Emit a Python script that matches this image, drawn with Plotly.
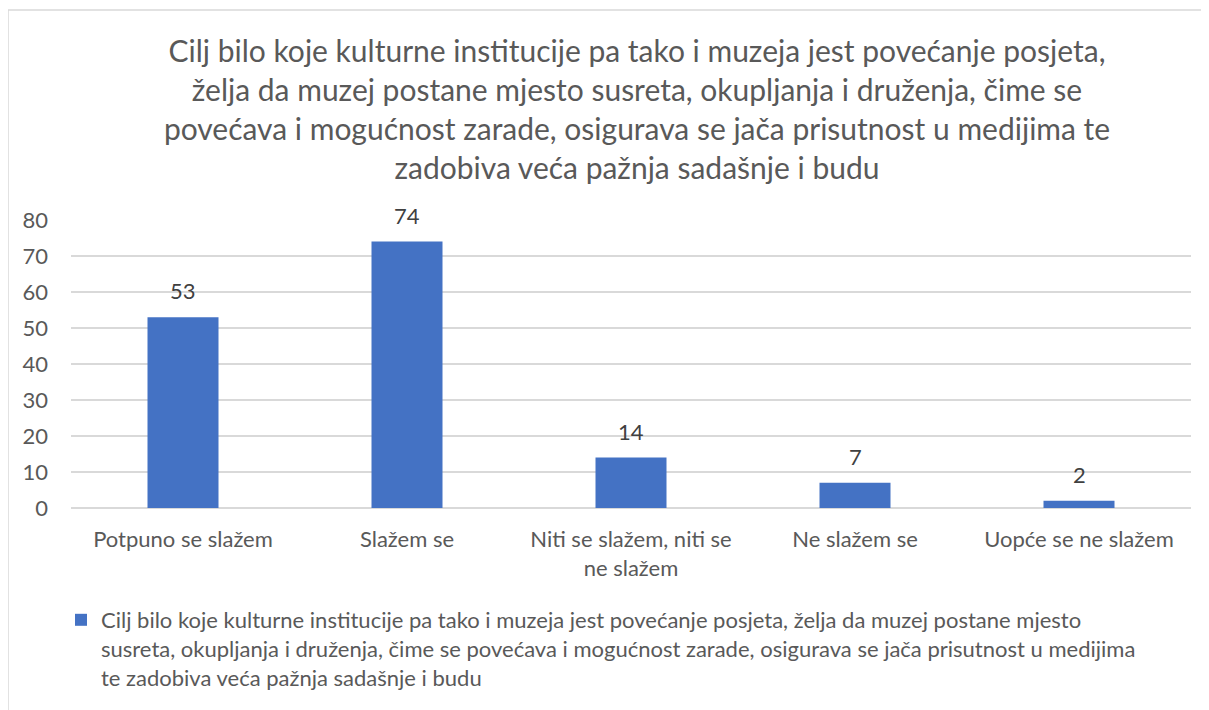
import plotly.graph_objects as go

categories = ["Potpuno se slažem", "Slažem se", "Niti se slažem, niti se<br>ne slažem",
              "Ne slažem se", "Uopće se ne slažem"]
values = [53, 74, 14, 7, 2]
series_name = ("Cilj bilo koje kulturne institucije pa tako i muzeja jest povećanje posjeta, želja da muzej postane mjesto<br>"
               "susreta, okupljanja i druženja, čime se povećava i mogućnost zarade, osigurava se jača prisutnost u medijima<br>"
               "te zadobiva veća pažnja sadašnje i budu")
title_text = ("Cilj bilo koje kulturne institucije pa tako i muzeja jest povećanje posjeta,<br>"
              "želja da muzej postane mjesto susreta, okupljanja i druženja, čime se<br>"
              "povećava i mogućnost zarade, osigurava se jača prisutnost u medijima te<br>"
              "zadobiva veća pažnja sadašnje i budu")
y_ticks = [0, 10, 20, 30, 40, 50, 60, 70, 80]

FONT = "Lato, 'Open Sans', sans-serif"
# page has an 8px body margin; figure coordinates are page coordinates minus 8
W, H = 1201, 702
L, R, T, B = 63, 18, 212, 202
pw, ph = W - L - R, H - T - B

fig = go.Figure()
fig.add_trace(go.Bar(
    x=categories, y=values, name=series_name,
    marker=dict(color="#4472C4", line=dict(width=0)),
    showlegend=True,
))

for c, v in zip(categories, values):
    fig.add_annotation(x=c, y=v, text=str(v), showarrow=False, yanchor="bottom",
                       yshift=11, font=dict(family=FONT, size=22, color="#404040"))

def px_to_paper_x(p):
    return (p - L) / pw

def px_to_paper_y(p):
    return (H - B - p) / ph

fig.add_shape(type="rect", xref="paper", yref="paper",
              x0=px_to_paper_x(0), x1=px_to_paper_x(1230),
              y0=px_to_paper_y(730), y1=px_to_paper_y(2),
              line=dict(color="#d9d9d9", width=1.5), fillcolor="rgba(0,0,0,0)", layer="below")

fig.update_layout(
    width=W, height=H,
    margin=dict(l=L, r=R, t=T, b=B),
    paper_bgcolor="white", plot_bgcolor="white",
    bargap=0.683,
    title=dict(text=title_text, x=629 / W, xanchor="center", y=1 - 54 / H, yanchor="top",
               yref="container",
               font=dict(family=FONT, size=30, color="#595959")),
    xaxis=dict(showgrid=False, showline=False, zeroline=False, ticks="",
               tickfont=dict(family=FONT, size=22, color="#595959"), ticklabelstandoff=16,
               range=[-0.5, 4.5]),
    yaxis=dict(range=[0, 80], tickvals=y_ticks, showgrid=True, gridcolor="#d9d9d9", gridwidth=1.5,
               zeroline=True, zerolinecolor="#d9d9d9", zerolinewidth=1.5, showline=False,
               ticks="", tickfont=dict(family=FONT, size=22, color="#595959"), ticklabelstandoff=22),
    legend=dict(x=px_to_paper_x(53), y=px_to_paper_y(591), xanchor="left", yanchor="top",
                orientation="h", valign="top", font=dict(family=FONT, size=22, color="#595959"),
                bgcolor="rgba(0,0,0,0)", itemwidth=30),
    font=dict(family=FONT),
)

fig.write_html("out.html")
